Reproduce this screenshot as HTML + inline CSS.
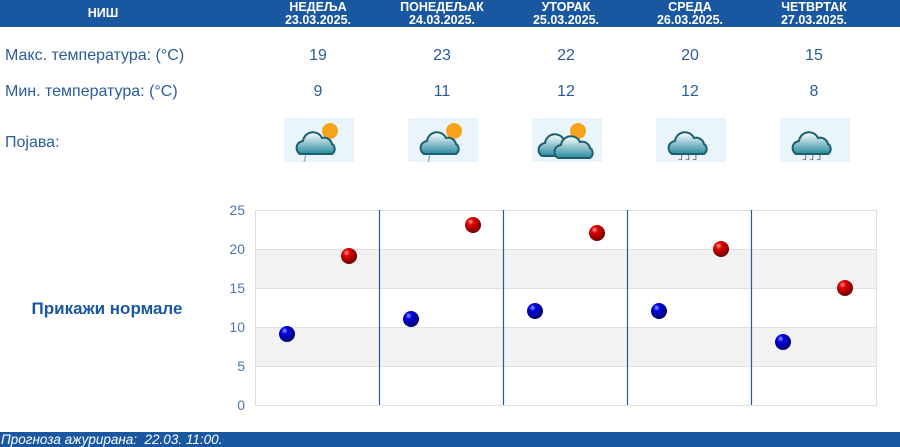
<!DOCTYPE html>
<html><head><meta charset="utf-8"><style>
body{margin:0;width:900px;height:447px;background:#fff;font-family:"Liberation Sans","DejaVu Sans",sans-serif;position:relative;overflow:hidden}
.a{position:absolute}
.hdr{left:0;top:0;width:900px;height:27px;background:#1a57a1}
.h{color:#fff;font-weight:bold;font-size:12.5px;text-align:center;line-height:13px;width:124px}
.lbl{color:#2b5c9a;font-size:16px;left:5px}
.v{color:#2b5c9a;font-size:16px;text-align:center;width:124px}
.foot{left:0;top:432px;width:900px;height:15px;background:#1a57a1;color:#fff;font-style:italic;font-size:13.5px;line-height:15px;padding-left:1px;box-sizing:border-box;white-space:pre}
</style></head><body>
<div class="a hdr"></div>
<div class="a h" style="left:68px;top:7px;width:70px">НИШ</div>
<div class="a h" style="left:256px;top:1px">НЕДЕЉА<br>23.03.2025.</div>
<div class="a h" style="left:380px;top:1px">ПОНЕДЕЉАК<br>24.03.2025.</div>
<div class="a h" style="left:504px;top:1px">УТОРАК<br>25.03.2025.</div>
<div class="a h" style="left:628px;top:1px">СРЕДА<br>26.03.2025.</div>
<div class="a h" style="left:752px;top:1px">ЧЕТВРТАК<br>27.03.2025.</div>

<div class="a lbl" style="top:47px">Макс. температура: (°C)</div>
<div class="a lbl" style="top:83px">Мин. температура: (°C)</div>
<div class="a lbl" style="top:134px">Појава:</div>
<div class="a v" style="left:256px;top:47px">19</div>
<div class="a v" style="left:380px;top:47px">23</div>
<div class="a v" style="left:504px;top:47px">22</div>
<div class="a v" style="left:628px;top:47px">20</div>
<div class="a v" style="left:752px;top:47px">15</div>
<div class="a v" style="left:256px;top:83px">9</div>
<div class="a v" style="left:380px;top:83px">11</div>
<div class="a v" style="left:504px;top:83px">12</div>
<div class="a v" style="left:628px;top:83px">12</div>
<div class="a v" style="left:752px;top:83px">8</div>

<svg class="a" style="left:0;top:0" width="900" height="447">
<defs>
<linearGradient id="cl" x1="0" y1="0" x2="0" y2="1"><stop offset="0" stop-color="#fff"/><stop offset="1" stop-color="#2a8aa0"/></linearGradient>
<radialGradient id="rb" cx="0.35" cy="0.3" r="0.7"><stop offset="0" stop-color="#ff9a9a"/><stop offset="0.3" stop-color="#e00000"/><stop offset="1" stop-color="#700000"/></radialGradient>
<radialGradient id="bb" cx="0.35" cy="0.3" r="0.7"><stop offset="0" stop-color="#9a9aff"/><stop offset="0.3" stop-color="#0000dd"/><stop offset="1" stop-color="#000070"/></radialGradient>
<g id="sun"><circle cx="0" cy="0" r="8" fill="#f7a21b"/></g>
<g id="cloud" stroke="#1c5d6e" stroke-width="2" fill="url(#cl)"><path d="M-20,8 a7,7 0 0 1 3,-13 a10,10 0 0 1 19,-3 a8,8 0 0 1 10,6 a6,6 0 0 1 0,10 z"/></g>
</defs>
<g>
<rect x="284" y="118" width="70" height="44" fill="#eaf4fb"/><use href="#sun" x="330" y="131"/><use href="#cloud" x="320" y="146"/><text x="304" y="160" font-size="7" fill="#555">ⅉ</text>
<rect x="408" y="118" width="70" height="44" fill="#eaf4fb"/><use href="#sun" x="454" y="131"/><use href="#cloud" x="444" y="146"/><text x="428" y="160" font-size="7" fill="#555">ⅉ</text>
<rect x="532" y="118" width="70" height="44" fill="#eaf4fb"/><use href="#sun" x="578" y="131"/><use href="#cloud" x="562" y="148"/><use href="#cloud" x="578" y="150"/>
<rect x="656" y="118" width="70" height="44" fill="#eaf4fb"/><use href="#cloud" x="692" y="146"/><text x="678" y="160" font-size="8" fill="#555">ᒧ ᒧ ᒧ</text>
<rect x="780" y="118" width="70" height="44" fill="#eaf4fb"/><use href="#cloud" x="816" y="146"/><text x="802" y="160" font-size="8" fill="#555">ᒧ ᒧ ᒧ</text>
</g>
<rect x="256" y="249" width="621" height="39" fill="#f2f2f2"/>
<rect x="256" y="327" width="621" height="39" fill="#f2f2f2"/>
<g stroke="#e0e0e0" stroke-width="1">
<line x1="255" y1="210.5" x2="877" y2="210.5"/><line x1="255" y1="249.5" x2="877" y2="249.5"/><line x1="255" y1="288.5" x2="877" y2="288.5"/><line x1="255" y1="327.5" x2="877" y2="327.5"/><line x1="255" y1="366.5" x2="877" y2="366.5"/><line x1="255" y1="405.5" x2="877" y2="405.5"/>
<line x1="255.5" y1="210" x2="255.5" y2="405"/><line x1="876.5" y1="210" x2="876.5" y2="405"/>
</g>
<g stroke="#2a5a9a" stroke-width="1.2">
<line x1="379.5" y1="210" x2="379.5" y2="405"/><line x1="503.5" y1="210" x2="503.5" y2="405"/><line x1="627.5" y1="210" x2="627.5" y2="405"/><line x1="751.5" y1="210" x2="751.5" y2="405"/>
</g>
<g fill="#4a77b0" font-size="14" text-anchor="end">
<text x="245" y="215">25</text><text x="245" y="254">20</text><text x="245" y="293">15</text><text x="245" y="332">10</text><text x="245" y="371">5</text><text x="245" y="410">0</text>
</g>
<g>
<circle cx="287" cy="334" r="8" fill="url(#bb)"/><circle cx="349" cy="256" r="8" fill="url(#rb)"/>
<circle cx="411" cy="319" r="8" fill="url(#bb)"/><circle cx="473" cy="225" r="8" fill="url(#rb)"/>
<circle cx="535" cy="311" r="8" fill="url(#bb)"/><circle cx="597" cy="233" r="8" fill="url(#rb)"/>
<circle cx="659" cy="311" r="8" fill="url(#bb)"/><circle cx="721" cy="249" r="8" fill="url(#rb)"/>
<circle cx="783" cy="342" r="8" fill="url(#bb)"/><circle cx="845" cy="288" r="8" fill="url(#rb)"/>
</g>
<text x="107" y="314" text-anchor="middle" font-size="17" font-weight="bold" fill="#1a57a1">Прикажи нормале</text>
</svg>
<div class="a foot">Прогноза ажурирана:  22.03. 11:00.</div>
</body></html>
